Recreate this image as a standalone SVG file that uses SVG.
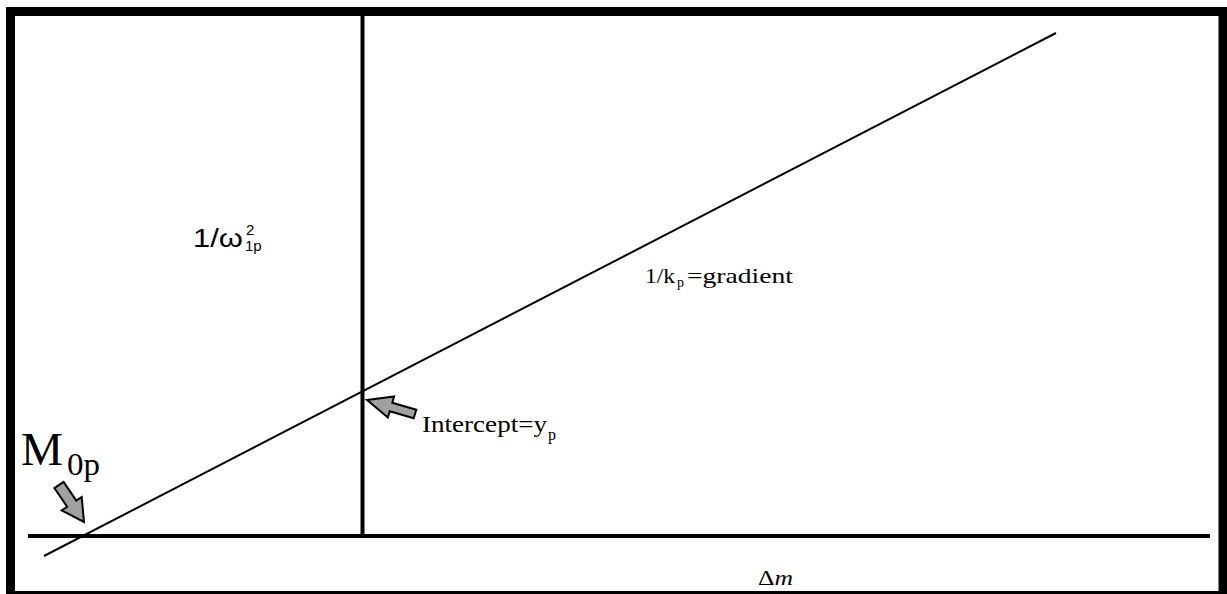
<svg xmlns="http://www.w3.org/2000/svg" width="1227" height="594" viewBox="0 0 1227 594">
<style>
.serif{font-family:"Liberation Serif","Times New Roman",serif;fill:#000}
.sans{font-family:"Liberation Sans",Arial,sans-serif;fill:#000}
.axis{stroke:#000;stroke-width:4;fill:none}
.arrow{fill:#a0a0a0;stroke:#000;stroke-width:2;stroke-linejoin:miter}
</style>
<rect x="0" y="0" width="1227" height="594" fill="#fff"/>
<g id="frame">
<rect x="10.5" y="11.5" width="1212.5" height="584" fill="none" stroke="#000" stroke-width="9"/>
</g>
<g id="connectors">
<line class="axis" x1="28" y1="536" x2="1210" y2="536"/>
<line class="axis" x1="362.5" y1="14" x2="362.5" y2="536"/>
<line x1="44" y1="556" x2="1056" y2="33" stroke="#000" stroke-width="2"/>
</g>
<g id="label-omega">
<text class="sans" x="193" y="247" font-size="25" textLength="50" lengthAdjust="spacingAndGlyphs">1/ω</text>
<text class="sans" x="246" y="235" font-size="15">2</text>
<text class="sans" x="245" y="251" font-size="15">1p</text>
</g>
<g id="label-gradient">
<text class="serif" x="645" y="283" font-size="22" textLength="30" lengthAdjust="spacingAndGlyphs">1/k</text>
<text class="serif" x="677" y="287" font-size="14">p</text>
<text class="serif" x="687" y="283" font-size="22" textLength="106" lengthAdjust="spacingAndGlyphs">=gradient</text>
</g>
<g id="intercept">
<polygon class="arrow" points="367,400 394.1,396.4 392.3,402.7 416.3,409.7 413.7,418.3 389.7,411.3 387.9,417.6"/>
<text class="serif" x="422" y="432" font-size="24" textLength="125" lengthAdjust="spacingAndGlyphs">Intercept=y</text>
<text class="serif" x="548" y="440" font-size="16">p</text>
</g>
<g id="M0p">
<polygon class="arrow" points="84,522 81.7,497 76.3,500.6 63.6,481.9 54.4,488.1 67.1,506.8 61.7,510.4"/>
<text class="serif" x="21" y="465" font-size="46" textLength="42" lengthAdjust="spacingAndGlyphs">M</text>
<text class="serif" x="67" y="475" font-size="32" textLength="33" lengthAdjust="spacingAndGlyphs">0p</text>
</g>
<g id="label-dm">
<text class="serif" x="758" y="585" font-size="21" textLength="35" lengthAdjust="spacingAndGlyphs">Δ<tspan font-style="italic">m</tspan></text>
</g>
</svg>
